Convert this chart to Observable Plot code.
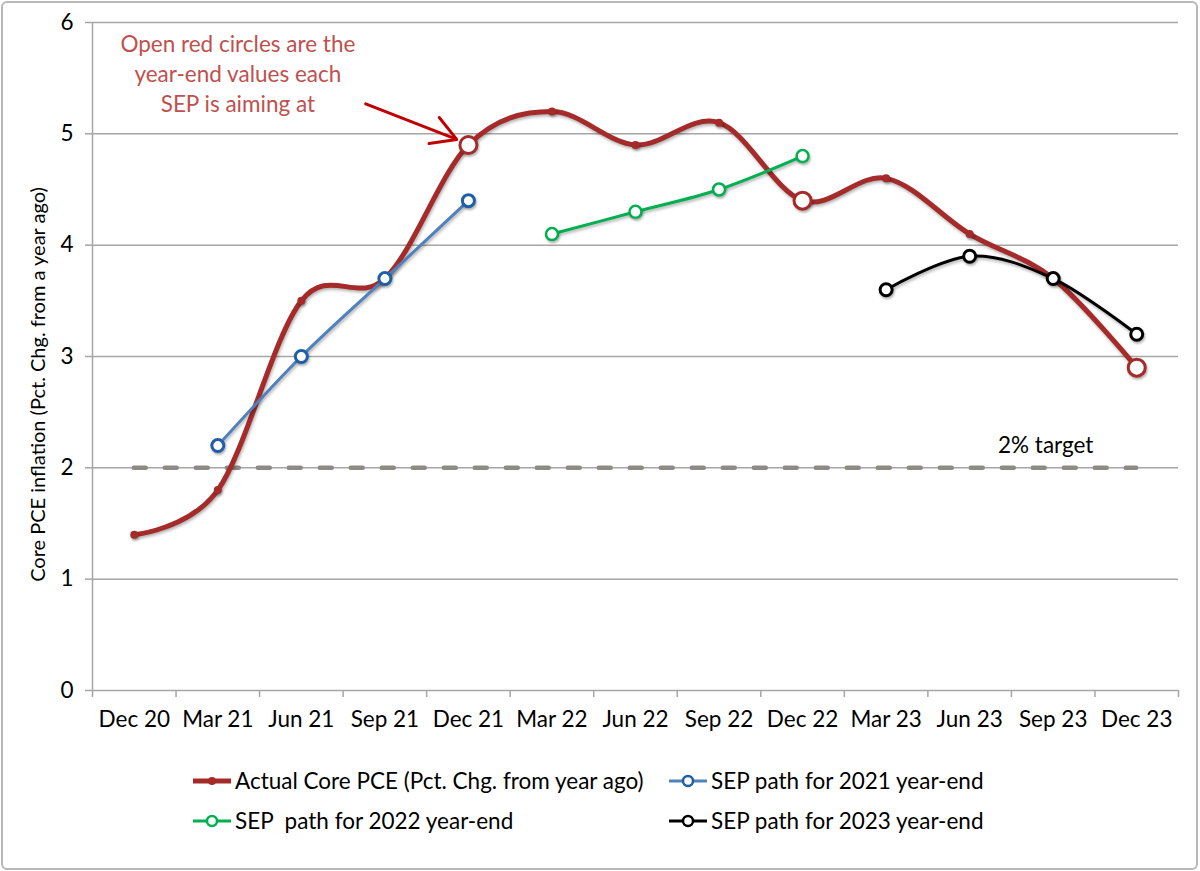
<!DOCTYPE html>
<html>
<head>
<meta charset="utf-8">
<script src="https://cdn.jsdelivr.net/npm/d3@7"></script>
<script src="https://cdn.jsdelivr.net/npm/@observablehq/plot@0.6"></script>
<style>
  html, body { margin: 0; padding: 0; background: #fff; }
  #wrap { position: relative; width: 1200px; height: 871px; font-family: Lato, "Open Sans", sans-serif; }
  #border { position: absolute; left: 1px; top: 1px; width: 1193px; height: 865px; border: 2px solid #b8b8b8; border-radius: 6px; pointer-events: none; }
  #chart { position: absolute; left: 0; top: 0; }
  #chart g[aria-label="line"] path { filter: drop-shadow(1px 2px 1.5px rgba(0,0,0,0.3)); }
  #chart g[aria-label="dot"] circle { filter: drop-shadow(1px 2px 1.2px rgba(0,0,0,0.3)); }
  #legend { position: absolute; left: 0; top: 767px; width: 1200px; height: 80px; font-size: 22.5px; color: #000; }
  .item { position: absolute; display: flex; align-items: center; white-space: pre; }
  .item svg { margin-right: 1px; }
</style>
</head>
<body>
<div id="wrap">
  <div id="chart"></div>
  <div id="legend"></div>
  <div id="border"></div>
</div>
<script>
// ---- data ----
const categories = ["Dec 20","Mar 21","Jun 21","Sep 21","Dec 21","Mar 22","Jun 22","Sep 22","Dec 22","Mar 23","Jun 23","Sep 23","Dec 23"];
const actualValues = [1.4, 1.8, 3.5, 3.7, 4.9, 5.2, 4.9, 5.1, 4.4, 4.6, 4.1, 3.7, 2.9];
const sep2021Dates = ["Mar 21","Jun 21","Sep 21","Dec 21"];
const sep2021Values = [2.2, 3.0, 3.7, 4.4];
const sep2022Dates = ["Mar 22","Jun 22","Sep 22","Dec 22"];
const sep2022Values = [4.1, 4.3, 4.5, 4.8];
const sep2023Dates = ["Mar 23","Jun 23","Sep 23","Dec 23"];
const sep2023Values = [3.6, 3.9, 3.7, 3.2];
const yearEndDates = ["Dec 21","Dec 22","Dec 23"];
const targetValue = 2;
const yTicks = [0, 1, 2, 3, 4, 5, 6];
const yLabel = "Core PCE inflation (Pct. Chg. from a year ago)";
const noteText = "Open red circles are the\nyear-end values each\nSEP is aiming at";
const notePos = {x: 1.24, y: 5.55};
const arrowPos = {x1: 2.77, y1: 5.27, x2: 3.86, y2: 4.95};
const targetLabel = "2% target";
const targetLabelPos = {x: 10.91, y: 2.2};
const seriesNames = ["Actual Core PCE (Pct. Chg. from year ago)", "SEP path for 2021 year-end", "SEP  path for 2022 year-end", "SEP path for 2023 year-end"];

// ---- helpers ----
const idx = c => categories.indexOf(c);
const actual = categories.map((c, i) => ({x: i, y: actualValues[i]}));
const mk = (dates, vals) => dates.map((d, i) => ({x: idx(d), y: vals[i]}));
const sep21 = mk(sep2021Dates, sep2021Values);
const sep22 = mk(sep2022Dates, sep2022Values);
const sep23 = mk(sep2023Dates, sep2023Values);
const yearEnd = yearEndDates.map(d => ({x: idx(d), y: actualValues[idx(d)]}));
const catIdx = categories.map((c, i) => i);
const boundaries = [-0.5, ...catIdx.map(i => i + 0.5)];

const RED = "#a52a2a", BLUE = "#4f81bd", BLUE_M = "#1f5fa8", GREEN = "#00b050", BLACK = "#000", GRID = "#a6a6a6";
const FS = 22.5;

const chart = Plot.plot({
  width: 1200,
  height: 750,
  marginLeft: 92,
  marginRight: 22,
  marginTop: 22,
  marginBottom: 60,
  style: {fontFamily: "Lato, 'Open Sans', sans-serif", fontSize: FS + "px", color: "#000", background: "transparent"},
  x: {type: "linear", domain: [-0.5, categories.length - 0.5], axis: null},
  y: {domain: [0, 6], axis: null},
  marks: [
    Plot.ruleY(yTicks.filter(d => d > 0), {stroke: GRID, strokeWidth: 1.5}),
    Plot.ruleY([0], {stroke: GRID, strokeWidth: 1.5}),
    Plot.ruleX([boundaries[0]], {stroke: GRID, strokeWidth: 1.5}),
    Plot.axisY({ticks: yTicks, tickSize: 7, tickPadding: 12, tickFormat: d => String(d), stroke: GRID, strokeWidth: 1.5, fontSize: FS, label: null}),
    Plot.axisX({ticks: boundaries, tickSize: 7, tickFormat: () => "", stroke: GRID, strokeWidth: 1.5, label: null}),
    Plot.axisX({ticks: catIdx, tickSize: 0, tickPadding: 21, tickFormat: i => categories[i], fontSize: FS, label: null}),
    Plot.text([yLabel], {frameAnchor: "left", textAnchor: "middle", rotate: -90, dx: -54, dy: 28, fontSize: 20, fill: "#000"}),
    Plot.ruleY([targetValue], {x1: 0, x2: categories.length - 1, stroke: "#8c8c84", strokeWidth: 4.5, strokeDasharray: "12,19", strokeLinecap: "round"}),
    Plot.text([targetLabel], {x: () => targetLabelPos.x, y: () => targetLabelPos.y, fontSize: FS, fill: "#000"}),
    Plot.line(actual, {x: "x", y: "y", stroke: RED, strokeWidth: 5, curve: "cardinal"}),
    Plot.dot(actual, {x: "x", y: "y", r: 4, fill: RED}),
    Plot.line(sep21, {x: "x", y: "y", stroke: BLUE, strokeWidth: 3, curve: "cardinal"}),
    Plot.line(sep22, {x: "x", y: "y", stroke: GREEN, strokeWidth: 3, curve: "cardinal"}),
    Plot.line(sep23, {x: "x", y: "y", stroke: BLACK, strokeWidth: 3, curve: "cardinal"}),
    Plot.dot(sep21, {x: "x", y: "y", r: 6, fill: "white", stroke: BLUE_M, strokeWidth: 3}),
    Plot.dot(sep22, {x: "x", y: "y", r: 6, fill: "white", stroke: GREEN, strokeWidth: 2.5}),
    Plot.dot(sep23, {x: "x", y: "y", r: 6, fill: "white", stroke: BLACK, strokeWidth: 3}),
    Plot.dot(yearEnd, {x: "x", y: "y", r: 8.5, fill: "white", stroke: RED, strokeWidth: 3}),
    Plot.arrow([arrowPos], {x1: "x1", y1: "y1", x2: "x2", y2: "y2", stroke: "#c00000", strokeWidth: 3, headLength: 14, bend: 0}),
    Plot.text([noteText], {x: () => notePos.x, y: () => notePos.y, fill: "#c0504d", fontSize: 22.5, lineHeight: 1.33})
  ]
});
document.getElementById("chart").appendChild(chart);

// ---- legend ----
const legendItems = [
  {name: seriesNames[0], color: RED, width: 5, marker: "dot", left: 192, top: 0},
  {name: seriesNames[1], color: BLUE, mcolor: BLUE_M, width: 3, marker: "ring", left: 668, top: 0},
  {name: seriesNames[2], color: GREEN, mcolor: GREEN, width: 3, marker: "ring", left: 192, top: 40},
  {name: seriesNames[3], color: BLACK, mcolor: BLACK, width: 3, marker: "ring", left: 668, top: 40}
];
const legend = document.getElementById("legend");
for (const it of legendItems) {
  const div = document.createElement("div");
  div.className = "item";
  div.style.left = it.left + "px";
  div.style.top = it.top + "px";
  const m = it.marker === "dot"
    ? `<circle cx="20" cy="8" r="4" fill="${it.color}"/>`
    : `<circle cx="20" cy="8" r="5" fill="white" stroke="${it.mcolor}" stroke-width="2.5"/>`;
  div.innerHTML = `<svg width="42" height="16"><line x1="1" x2="39" y1="8" y2="8" stroke="${it.color}" stroke-width="${it.width}"/>${m}</svg><span>${it.name}</span>`;
  legend.appendChild(div);
}
</script>
</body>
</html>
